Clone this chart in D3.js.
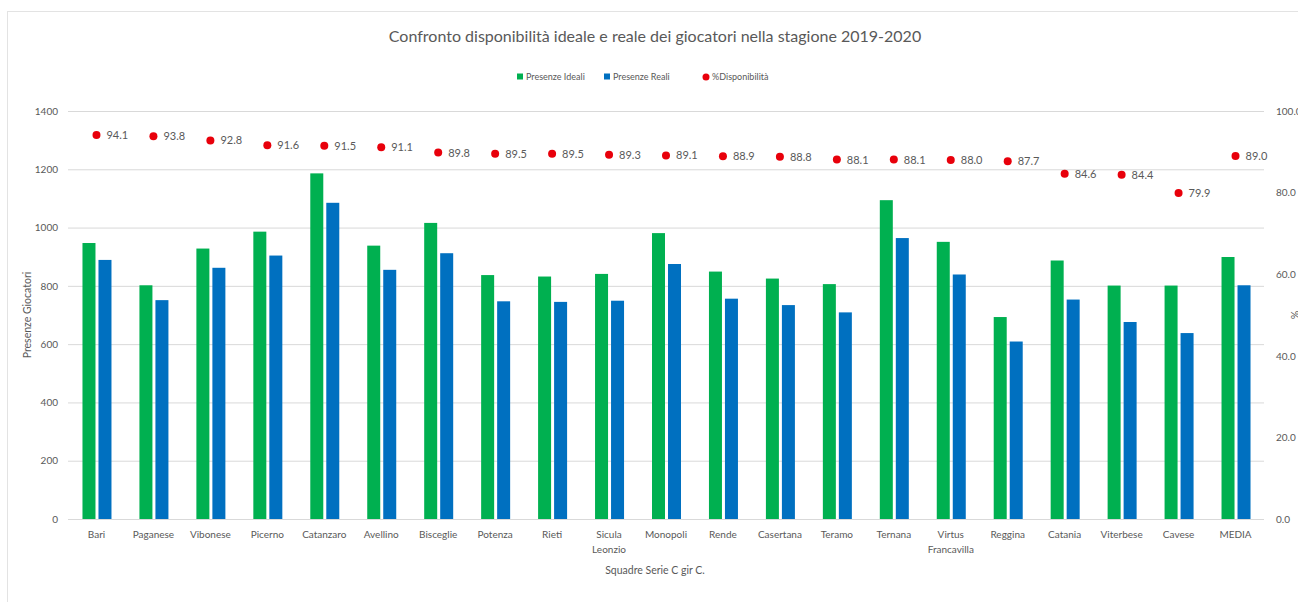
<!DOCTYPE html>
<html>
<head>
<meta charset="utf-8">
<script src="https://cdn.jsdelivr.net/npm/d3@7"></script>
<style>
	body{margin:0;background:#fff;font-family:Lato,"Open Sans",sans-serif;}
	svg text{fill:#595959;}
</style>
</head>
<body>
<div id="chart"></div>
<script>
// squadre e valori
var teams = ["Bari","Paganese","Vibonese","Picerno","Catanzaro","Avellino","Bisceglie","Potenza","Rieti","Sicula Leonzio","Monopoli","Rende","Casertana","Teramo","Ternana","Virtus Francavilla","Reggina","Catania","Viterbese","Cavese","MEDIA"]
var ideali = [947,802,928,986,1186,938,1016,837,832,841,981,849,825,806,1094,951,693,887,801,801,899]
var reali = [889,751,862,904,1085,855,912,747,745,749,875,756,734,709,964,839,609,753,676,638,802]
var disponibilita = [94.1,93.8,92.8,91.6,91.5,91.1,89.8,89.5,89.5,89.3,89.1,88.9,88.8,88.1,88.1,88.0,87.7,84.6,84.4,79.9,89.0]
var leftTicks = [0,200,400,600,800,1000,1200,1400]
var rightTicks = [0,20,40,60,80,100]

var W = 1298, H = 602
var margin = {top:111, right:34, bottom:83, left:68}
var width = W - margin.left - margin.right
var height = H - margin.top - margin.bottom

var svg = d3.select("#chart").append("svg")
	.attr("width",W)
	.attr("height",H)

// cornice del grafico
svg.append("rect")
	.attr("x",7.5).attr("y",11.5)
	.attr("width",W).attr("height",H-8)
	.attr("fill","none")
	.attr("stroke","#e3e3e3")

var g = svg.append("g")
	.attr("transform","translate("+margin.left+","+margin.top+")")

var x = d3.scaleBand().domain(teams).range([0,width])
var y = d3.scaleLinear().domain([0,1400]).range([height,0])
var y2 = d3.scaleLinear().domain([0,100]).range([height,0])

// griglia
g.selectAll(".grid").data(leftTicks).enter().append("line")
	.attr("x1",0).attr("x2",width)
	.attr("y1",d=>y(d)+0.5).attr("y2",d=>y(d)+0.5)
	.attr("stroke","#d9d9d9")

var yAxis = g.append("g").call(d3.axisLeft(y).tickValues(leftTicks).tickSize(0).tickPadding(10).tickFormat(d3.format("d")))
yAxis.select(".domain").remove()
yAxis.selectAll("text").style("font-size","10px").style("fill","#595959").style("font-family","Lato")

var y2Axis = g.append("g")
	.attr("transform","translate("+(width+9)+",0)")
	.call(d3.axisRight(y2).tickValues(rightTicks).tickSize(0).tickFormat(d3.format(".1f")))
y2Axis.select(".domain").remove()
y2Axis.selectAll("text").style("font-size","10px").style("fill","#595959").style("font-family","Lato")

var bw = 13, gap = 3
var groups = g.selectAll(".team").data(teams).enter().append("g")
	.attr("transform",d=>"translate("+(x(d)+x.bandwidth()/2)+",0)")

groups.append("rect")
	.attr("x",-bw-gap/2+0.5)
	.attr("y",(d,i)=>y(ideali[i]))
	.attr("width",bw)
	.attr("height",(d,i)=>height-y(ideali[i]))
	.attr("fill","#00b050")

groups.append("rect")
	.attr("x",gap/2+0.5)
	.attr("y",(d,i)=>y(reali[i]))
	.attr("width",bw)
	.attr("height",(d,i)=>height-y(reali[i]))
	.attr("fill","#0070c0")

groups.append("circle")
	.attr("cx",0)
	.attr("cy",(d,i)=>y2(disponibilita[i]))
	.attr("r",4)
	.attr("fill","#e8000b")

groups.append("text")
	.attr("x",10)
	.attr("y",(d,i)=>y2(disponibilita[i])+4)
	.style("font-size","11px")
	.text((d,i)=>disponibilita[i].toFixed(1))

// etichette categorie (su due righe quando servono)
groups.each(function(d){
	var words = d.split(" ")
	var t = d3.select(this).append("text")
		.attr("text-anchor","middle")
		.attr("y",height+19)
		.style("font-size","10px")
	words.forEach((w,k)=>{
		t.append("tspan").attr("x",0).attr("dy",k?15:0).text(w)
	})
})

// titoli
svg.append("text")
	.attr("x",655).attr("y",42)
	.attr("text-anchor","middle")
	.style("font-size","16px")
	.text("Confronto disponibilità ideale e reale dei giocatori nella stagione 2019-2020")

svg.append("text")
	.attr("transform","translate(31,"+(margin.top+height/2)+") rotate(-90)")
	.attr("text-anchor","middle")
	.style("font-size","10.5px")
	.text("Presenze Giocatori")

svg.append("text")
	.attr("transform","translate(1291,"+(margin.top+height/2)+") rotate(90)")
	.attr("text-anchor","middle")
	.style("font-size","10.5px")
	.text("%")

svg.append("text")
	.attr("x",655).attr("y",574)
	.attr("text-anchor","middle")
	.style("font-size","10.5px")
	.text("Squadre Serie C gir C.")

// legenda
var legend = [
	{name:"Presenze Ideali",color:"#00b050",shape:"rect",x:517},
	{name:"Presenze Reali",color:"#0070c0",shape:"rect",x:604},
	{name:"%Disponibilità",color:"#e8000b",shape:"circle",x:703}
]
var lg = svg.selectAll(".legend").data(legend).enter().append("g")
	.attr("transform",d=>"translate("+d.x+",77)")
lg.filter(d=>d.shape=="rect").append("rect")
	.attr("x",0).attr("y",-3.5).attr("width",6).attr("height",6)
	.attr("fill",d=>d.color)
lg.filter(d=>d.shape=="circle").append("circle")
	.attr("cx",3).attr("cy",0).attr("r",3.5)
	.attr("fill",d=>d.color)
lg.append("text")
	.attr("x",9).attr("y",3)
	.style("font-size","9px")
	.text(d=>d.name)
</script>
</body>
</html>
